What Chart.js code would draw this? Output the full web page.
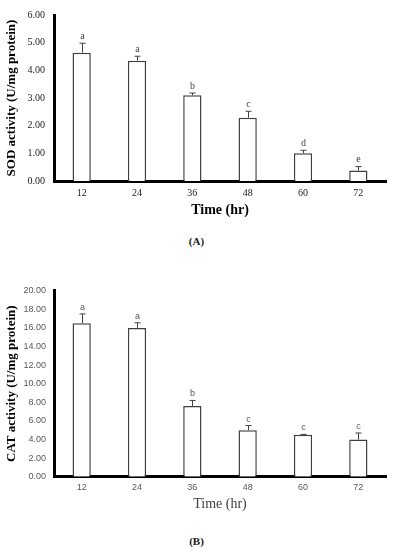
<!DOCTYPE html>
<html>
<head>
<meta charset="utf-8">
<script src="https://cdn.jsdelivr.net/npm/chart.js@4.4.1/dist/chart.umd.min.js"></script>
<style>
  body { margin: 0; background: #fff; width: 393px; height: 550px; position: relative; overflow: hidden; }
  .wrap { position: absolute; left: 0; width: 393px; }
  .lbl { position: absolute; left: 0; width: 393px; text-align: center; font: bold 11px "Liberation Serif", serif; color: #222; }
</style>
</head>
<body>
<div class="wrap" style="top:0;height:222px"><canvas id="sod"></canvas></div>
<div class="lbl" style="top:235px">(A)</div>
<div class="wrap" style="top:270px;height:250px"><canvas id="cat"></canvas></div>
<div class="lbl" style="top:535px">(B)</div>
<script>
/*--------------------DATA--------------------*/
let hours = ['12', '24', '36', '48', '60', '72'];

let sodValues = [4.64, 4.35, 3.10, 2.29, 1.00, 0.38];
let sodSd = [0.34, 0.16, 0.08, 0.23, 0.11, 0.14];
let sodLetters = ['a', 'a', 'b', 'c', 'd', 'e'];

let catValues = [16.5, 16.0, 7.6, 5.0, 4.5, 4.0];
let catSd = [1.0, 0.55, 0.6, 0.5, 0.05, 0.7];
let catLetters = ['a', 'a', 'b', 'c', 'c', 'c'];

/*--------------------PLUGIN--------------------*/
// error bars + significance letters, drawn through the scales
let errorBars = {
    id: 'errorBars',
    afterDatasetsDraw(chart, args, opts) {
        let ctx = chart.ctx;
        let meta = chart.getDatasetMeta(0);
        let y = chart.scales.y;
        let vals = chart.data.datasets[0].data;
        ctx.save();
        ctx.strokeStyle = '#404040';
        ctx.lineWidth = 1;
        ctx.fillStyle = opts.color;
        ctx.font = opts.font;
        ctx.textAlign = 'center';
        ctx.textBaseline = 'bottom';
        meta.data.forEach((bar, i) => {
            let x = Math.round(bar.x) + 0.5;
            let top = y.getPixelForValue(vals[i] + opts.sd[i]);
            ctx.beginPath();
            ctx.moveTo(x, bar.y);
            ctx.lineTo(x, top);
            ctx.moveTo(x - 3, top);
            ctx.lineTo(x + 3, top);
            ctx.stroke();
            ctx.fillText(opts.letters[i], x, top - 2);
        });
        ctx.restore();
    }
};

/*--------------------CHARTS--------------------*/
function makeChart(id, values, sd, letters, cfg) {
    return new Chart(document.getElementById(id), {
        type: 'bar',
        data: {
            labels: hours,
            datasets: [{
                data: values,
                backgroundColor: '#fff',
                borderColor: '#404040',
                borderWidth: 1.5,
                categoryPercentage: 1,
                barPercentage: 0.33
            }]
        },
        plugins: [errorBars],
        options: {
            responsive: true,
            maintainAspectRatio: false,
            animation: false,
            layout: { padding: { top: cfg.top, right: 7, left: 0, bottom: 0 } },
            plugins: {
                legend: { display: false },
                tooltip: { enabled: false },
                errorBars: { sd: sd, letters: letters, color: cfg.letterColor, font: cfg.letterFont }
            },
            scales: {
                x: {
                    grid: { display: false, drawTicks: false },
                    border: { display: true, color: '#000', width: 3 },
                    ticks: { color: cfg.tickColor, font: cfg.tickFont, padding: cfg.xPad },
                    title: { display: true, text: 'Time (hr)', color: cfg.xTitleColor, font: cfg.xTitleFont, padding: { top: 0, bottom: cfg.xTitlePad } },
                    afterFit: (s) => { s.height = cfg.xHeight; }
                },
                y: {
                    min: 0,
                    max: cfg.max,
                    grid: { display: false, drawTicks: false },
                    border: { display: true, color: '#000', width: 3 },
                    ticks: {
                        stepSize: cfg.step,
                        color: cfg.tickColor,
                        font: cfg.tickFont,
                        padding: cfg.yPad,
                        callback: (v) => v.toFixed(2)
                    },
                    title: { display: true, text: cfg.yTitle, color: '#000', font: { family: 'Liberation Serif', size: 13, weight: 'bold' }, padding: { top: 4, bottom: 0 } },
                    afterFit: (s) => { s.width = 54; }
                }
            }
        }
    });
}

let sodChart = makeChart('sod', sodValues, sodSd, sodLetters, {
    top: 8, max: 6, step: 1, xHeight: 41, xPad: 6, yPad: 9, xTitlePad: 3.5,
    yTitle: 'SOD activity (U/mg protein)',
    tickColor: '#222', tickFont: { family: 'Liberation Serif', size: 10 },
    xTitleColor: '#000', xTitleFont: { family: 'Liberation Serif', size: 14, weight: 'bold' },
    letterColor: '#444', letterFont: '10px "Liberation Serif"'
});

let catChart = makeChart('cat', catValues, catSd, catLetters, {
    top: 20.7, max: 20, step: 2, xHeight: 43.3, xPad: 5.5, yPad: 8, xTitlePad: 7.6,
    yTitle: 'CAT activity (U/mg protein)',
    tickColor: '#595959', tickFont: { family: 'Liberation Sans', size: 9 },
    xTitleColor: '#404040', xTitleFont: { family: 'Liberation Serif', size: 14 },
    letterColor: '#595959', letterFont: '9px "Liberation Sans"'
});
</script>
</body>
</html>
